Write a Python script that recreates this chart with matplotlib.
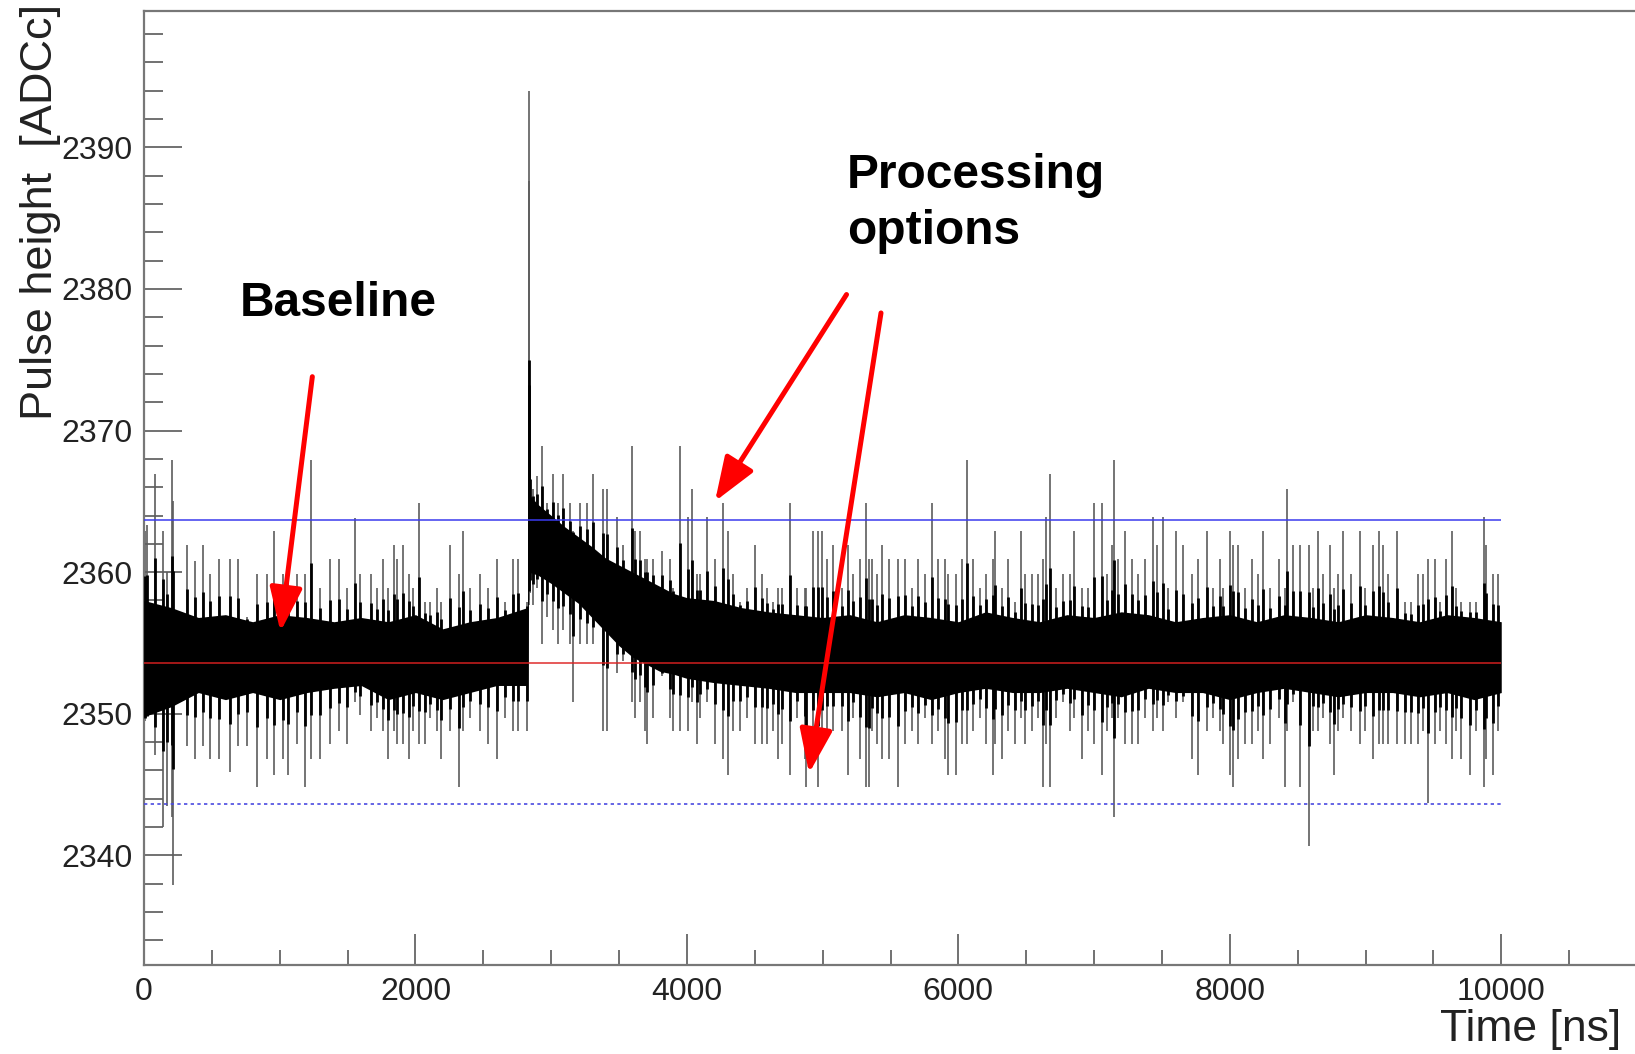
import numpy as np
import matplotlib
matplotlib.use("Agg")
import matplotlib.pyplot as plt
from matplotlib.ticker import FixedLocator, MultipleLocator

plt.rcParams['font.family'] = ['Liberation Sans', 'DejaVu Sans']

# ---------------- data ----------------
# individual sample excursions (time [ns], highest value, lowest value)
spike_time = [
    5, 20, 81, 140, 168, 204, 212, 314, 376, 432, 486, 555, 633, 695, 756, 835, 904, 960, 1026, 1063,
    1125, 1186, 1228, 1296, 1370, 1436, 1493, 1554, 1591,
    1670, 1714, 1763, 1800, 1842, 1861, 1906, 1955, 1984, 2028, 2070, 2107, 2156, 2188, 2254, 2318,
    2353, 2402, 2475, 2537, 2598, 2659, 2721, 2758, 2819,
    2834, 2838, 2845, 2868, 2893, 2935, 2966, 3016, 3052, 3089, 3138, 3163, 3212, 3261, 3305,
    3384, 3413, 3482, 3531, 3592, 3617, 3654, 3690, 3703, 3752, 3813, 3875, 3899, 3948, 4010, 4034,
    4071, 4096, 4150, 4206, 4263, 4304, 4341, 4390, 4439, 4501, 4550, 4587, 4636, 4673, 4697, 4759,
    4808, 4869, 4881, 4931, 4967, 4992, 5029,
    5078, 5139, 5188, 5225, 5274, 5316, 5343, 5365, 5397, 5434, 5490, 5556, 5605, 5655, 5704, 5753,
    5807, 5851, 5900, 5925, 5981, 6028, 6065, 6109, 6163, 6207, 6256, 6268, 6318, 6367, 6416, 6465,
    6490, 6539, 6588, 6625, 6644, 6674, 6723,
    6773, 6822, 6851, 6908, 6957, 7001, 7055, 7092, 7129, 7148, 7178, 7227, 7276, 7325, 7374, 7431,
    7460, 7509, 7546, 7600, 7657, 7718, 7767, 7833, 7878, 7927, 7951, 8000, 8025, 8062, 8111, 8165,
    8209, 8246, 8295, 8364, 8405, 8425,
    8467, 8516, 8584, 8614, 8651, 8688, 8737, 8769, 8798, 8835, 8896, 8958, 8994, 9056, 9098, 9130,
    9166, 9233, 9289, 9338, 9387, 9424, 9461, 9510, 9547, 9596, 9638, 9670, 9707, 9768, 9817, 9871,
    9891, 9940, 9977,
]
spike_high = [
    2362.9, 2363.3, 2366.9, 2362.9, 2360.0, 2367.9, 2365.0, 2361.9, 2360.8, 2361.9, 2359.9, 2360.9,
    2360.9, 2360.9, 2356.8, 2359.9, 2359.9, 2362.9, 2359.9, 2359.9, 2359.9, 2359.9, 2367.9, 2358.9,
    2360.9, 2360.9, 2358.9, 2363.8, 2359.9,
    2359.9, 2358.9, 2360.9, 2358.9, 2361.9, 2360.9, 2361.9, 2359.9, 2358.9, 2364.9, 2357.9, 2357.9,
    2358.9, 2357.9, 2361.9, 2359.9, 2362.9, 2358.9, 2359.9, 2358.9, 2360.9, 2357.9, 2360.9, 2360.9,
    2357.9,
    2394.0, 2387.6, 2368.8, 2365.9, 2366.8, 2368.9, 2364.9, 2366.9, 2364.9, 2366.9, 2364.9, 2362.9,
    2364.9, 2364.9, 2366.9,
    2365.9, 2365.9, 2363.9, 2361.9, 2368.9, 2362.9, 2362.9, 2360.9, 2360.9, 2360.9, 2361.5, 2360.9,
    2358.9, 2368.9, 2363.9, 2365.9, 2359.9, 2359.9, 2363.9, 2360.9, 2364.9, 2362.9, 2359.9, 2357.9,
    2358.9, 2361.9, 2359.9, 2358.9, 2357.9, 2358.9, 2358.9, 2364.9, 2358.9, 2358.9, 2358.9, 2362.9,
    2362.9, 2362.9, 2360.9,
    2361.9, 2358.9, 2361.9, 2359.9, 2360.9, 2364.9, 2360.9, 2360.9, 2359.9, 2361.9, 2360.9, 2360.9,
    2360.9, 2358.9, 2360.9, 2359.9, 2364.9, 2360.9, 2360.9, 2359.9, 2359.9, 2360.9, 2367.9, 2360.9,
    2358.9, 2359.9, 2360.9, 2362.9, 2358.9, 2360.9, 2357.9, 2362.9, 2359.9, 2359.9, 2359.9, 2360.9,
    2363.9, 2366.9, 2358.9,
    2359.9, 2359.9, 2362.9, 2358.9, 2358.9, 2364.9, 2364.9, 2359.9, 2361.9, 2367.9, 2360.9, 2362.9,
    2360.9, 2359.9, 2360.9, 2363.9, 2361.9, 2363.9, 2358.9, 2362.9, 2361.9, 2359.9, 2360.9, 2362.9,
    2358.9, 2360.9, 2358.9, 2362.9, 2361.9, 2361.9, 2358.9, 2360.9, 2359.9, 2362.9, 2358.9, 2360.9,
    2358.9, 2365.9,
    2361.9, 2361.9, 2361.9, 2358.9, 2362.9, 2359.9, 2361.9, 2358.9, 2359.9, 2362.9, 2359.9, 2362.9,
    2358.9, 2361.9, 2362.9, 2361.9, 2359.9, 2362.9, 2357.9, 2357.9, 2359.9, 2359.9, 2360.9, 2360.9,
    2357.9, 2360.9, 2362.9, 2358.9, 2357.9, 2357.9, 2357.9, 2363.9, 2361.9, 2359.9, 2359.9,
]
spike_low = [
    2349.5, 2350.5, 2347.1, 2342.0, 2343.5, 2342.7, 2337.9, 2347.7, 2346.8, 2347.7, 2346.8, 2346.8,
    2345.9, 2347.7, 2347.7, 2344.8, 2346.8, 2345.7, 2346.8, 2345.7, 2347.9, 2344.8, 2346.8, 2346.8,
    2347.9, 2348.8, 2347.9, 2350.8, 2349.9,
    2348.8, 2349.7, 2348.8, 2346.8, 2348.8, 2347.9, 2347.9, 2346.8, 2348.8, 2347.9, 2347.9, 2349.7,
    2348.8, 2346.8, 2348.8, 2344.8, 2348.8, 2349.7, 2348.8, 2347.9, 2346.8, 2349.7, 2348.8, 2348.8,
    2348.8,
    2357.7, 2358.0, 2358.5, 2357.7, 2358.9, 2354.9, 2356.8, 2355.9, 2354.9, 2355.9, 2354.9, 2350.8,
    2354.9, 2354.9, 2354.9,
    2348.8, 2348.8, 2352.9, 2353.7, 2350.8, 2349.7, 2350.8, 2348.8, 2347.9, 2349.7, 2352.7, 2349.7,
    2348.8, 2348.8, 2348.8, 2350.8, 2347.9, 2349.7, 2350.8, 2347.9, 2346.8, 2345.7, 2348.8, 2348.8,
    2349.7, 2347.9, 2347.9, 2347.9, 2348.8, 2346.8, 2347.9, 2345.7, 2349.7, 2346.8, 2344.8, 2347.9,
    2344.8, 2347.9, 2348.8,
    2348.8, 2348.8, 2345.7, 2349.7, 2346.8, 2344.8, 2344.8, 2348.8, 2347.9, 2346.8, 2346.8, 2344.8,
    2347.9, 2348.8, 2347.9, 2349.7, 2347.9, 2348.8, 2346.8, 2345.7, 2345.7, 2347.9, 2347.9, 2348.8,
    2349.7, 2347.9, 2345.7, 2347.9, 2346.8, 2348.8, 2347.9, 2349.7, 2347.9, 2348.8, 2349.7, 2344.8,
    2347.9, 2344.8, 2349.7,
    2350.8, 2348.8, 2349.7, 2346.8, 2348.8, 2347.9, 2345.7, 2348.8, 2349.7, 2342.7, 2349.7, 2347.9,
    2347.9, 2347.9, 2349.7, 2348.8, 2349.7, 2348.8, 2350.8, 2349.7, 2350.8, 2346.8, 2345.7, 2348.8,
    2349.7, 2348.8, 2347.9, 2345.7, 2344.8, 2346.8, 2347.9, 2347.9, 2348.8, 2346.8, 2347.9, 2349.7,
    2344.8, 2348.8,
    2350.8, 2344.8, 2340.7, 2348.8, 2348.8, 2349.7, 2347.9, 2345.7, 2348.8, 2349.7, 2348.8, 2347.9,
    2348.8, 2346.8, 2347.9, 2347.9, 2347.9, 2347.9, 2347.9, 2347.9, 2347.9, 2348.8, 2343.7, 2347.9,
    2348.8, 2347.9, 2346.8, 2348.8, 2346.8, 2345.7, 2348.8, 2344.8, 2346.8, 2345.7, 2348.8,
]

# dense (dark) part of the trace
core_time = [0, 200, 400, 600, 800, 1000, 1200, 1400, 1600, 1800, 2000, 2200, 2400, 2600,
             2825, 2835, 2900, 3000, 3100, 3200, 3300, 3400, 3500, 3600, 3700, 3800, 3900, 4000,
             4200, 4400, 4600, 4800,
             5000, 5200, 5400, 5600, 5800, 6000, 6200, 6400, 6600, 6800, 7000, 7200, 7400,
             7600, 7800, 8000, 8200, 8400, 8600, 8800, 9000, 9200, 9400, 9600, 9800, 10000]
core_low = [2349.8, 2350.5, 2351.5, 2351.0, 2351.5, 2351.0, 2351.5, 2351.8, 2352.0, 2351.0,
            2351.5, 2351.0, 2351.5, 2352.0,
            2352.0, 2360.0, 2359.8, 2359.2, 2358.5, 2357.8, 2356.8, 2355.8, 2354.8, 2354.0,
            2353.5, 2353.0, 2352.8, 2352.5,
            2352.2, 2352.0, 2351.8, 2351.5,
            2351.5, 2351.5, 2351.2, 2351.5, 2351.0, 2351.5, 2351.8, 2351.5, 2351.5, 2351.8,
            2351.5, 2351.2, 2351.8, 2351.5, 2351.5, 2351.0, 2351.5, 2351.8, 2351.5, 2351.2,
            2351.5, 2351.5, 2351.2, 2351.5, 2351.0, 2351.5]
core_high = [2358.0, 2357.5, 2356.8, 2357.0, 2356.5, 2357.0, 2356.8, 2356.5, 2356.8, 2356.5,
             2357.0, 2356.0, 2356.5, 2356.8,
             2357.5, 2365.5, 2364.8, 2364.0, 2363.2, 2362.5, 2361.8, 2361.0, 2360.5, 2360.0,
             2359.5, 2359.0, 2358.5, 2358.2,
             2358.0, 2357.5, 2357.2, 2357.0,
             2356.8, 2357.0, 2356.5, 2357.0, 2356.8, 2356.5, 2357.2, 2356.8, 2356.5, 2357.0,
             2356.8, 2357.2, 2357.0, 2356.5, 2356.8, 2357.0, 2356.5, 2357.0, 2356.8, 2356.5,
             2357.0, 2356.8, 2356.5, 2357.0, 2356.8, 2356.5]

baseline_level = 2353.6
upper_threshold = 2363.7
lower_threshold = 2343.6
trace_end = 10000

x_ticks = [0, 2000, 4000, 6000, 8000, 10000]
y_ticks = [2340, 2350, 2360, 2370, 2380, 2390]

assert len(spike_time) == len(spike_high) == len(spike_low)
assert len(core_time) == len(core_low) == len(core_high)

# ---------------- figure ----------------
fig = plt.figure(figsize=(16.35, 10.54), dpi=100)
ax = fig.add_axes([0.0881, 0.0849, 1.0012 - 0.0881, 0.990 - 0.0849])
ax.set_xlim(0, 11000)
ax.set_ylim(2332.3, 2399.65)

st = np.asarray(spike_time, float)
sh = np.asarray(spike_high, float)
sl = np.asarray(spike_low, float)

# thin grey excursions
ax.vlines(st, sl, sh, color='#5c5c5c', lw=1.2, zorder=2)
# dense core of the trace
ax.fill_between(core_time, core_low, core_high, color='black', lw=0, zorder=3)
# darker part of each excursion next to the core (overlapping samples)
c_lo = np.interp(st, core_time, core_low)
c_hi = np.interp(st, core_time, core_high)
in_lo = np.minimum(c_lo, c_lo - 0.35 * (c_lo - sl))
in_hi = np.maximum(c_hi, c_hi + 0.35 * (sh - c_hi))
ax.vlines(st, in_lo, in_hi, color='black', lw=2.0, zorder=3)

ax.hlines(upper_threshold, 0, trace_end, color='#3a3aee', lw=1.1, zorder=4)
ax.hlines(lower_threshold, 0, trace_end, color='#4a4ae0', lw=1.2,
          linestyles=(0, (2.0, 2.0)), zorder=4)
ax.hlines(baseline_level, 0, trace_end, color='#dd2020', lw=1.3, alpha=0.8, zorder=4)

# axes styling (ROOT like)
for side in ['left', 'bottom', 'top']:
    ax.spines[side].set_color('#777777')
    ax.spines[side].set_linewidth(1.6)
ax.spines['right'].set_visible(False)

ax.xaxis.set_major_locator(FixedLocator(x_ticks))
ax.xaxis.set_minor_locator(MultipleLocator(500))
ax.yaxis.set_major_locator(FixedLocator(y_ticks))
ax.yaxis.set_minor_locator(MultipleLocator(2))

ax.tick_params(axis='y', which='major', direction='in', length=27, width=1.3,
               color='#666666', labelsize=23, labelcolor='#222222', pad=8.5,
               left=True, right=False)
ax.tick_params(axis='y', which='minor', direction='in', length=13.5, width=1.3,
               color='#666666', left=True, right=False)
ax.tick_params(axis='x', which='major', direction='in', length=22, width=1.3,
               color='#666666', labelsize=23, labelcolor='#222222', pad=9,
               bottom=True, top=False)
ax.tick_params(axis='x', which='minor', direction='in', length=11, width=1.3,
               color='#666666', bottom=True, top=False)

fig.text(0.0245, 0.996, 'Pulse height  [ADCc]', rotation=90, ha='center', va='top',
         fontsize=32.5, color='#222222')
fig.text(0.9914, 0.023, 'Time [ns]', ha='right', va='center', fontsize=32, color='#222222')

# annotations
ax.text(707, 2378.1, 'Baseline', fontsize=34.5, fontweight='bold', va='baseline', zorder=6)
ax.text(5179, 2387.1, 'Processing', fontsize=34.5, fontweight='bold', va='baseline', zorder=6)
ax.text(5179, 2383.2, 'options', fontsize=34.5, fontweight='bold', va='baseline', zorder=6)

arrow_kw = dict(arrowstyle='-|>,head_length=1.35,head_width=0.5', color='#ff0000', lw=3.6,
                mutation_scale=20, shrinkA=0, shrinkB=0)
ax.annotate('', xy=(1005, 2355.8), xytext=(1240, 2373.8), arrowprops=arrow_kw, zorder=7)
ax.annotate('', xy=(4207, 2365.0), xytext=(5176, 2379.6), arrowprops=arrow_kw, zorder=7)
ax.annotate('', xy=(4900, 2345.8), xytext=(5430, 2378.3), arrowprops=arrow_kw, zorder=7)

fig.savefig('out.png', dpi=100)
